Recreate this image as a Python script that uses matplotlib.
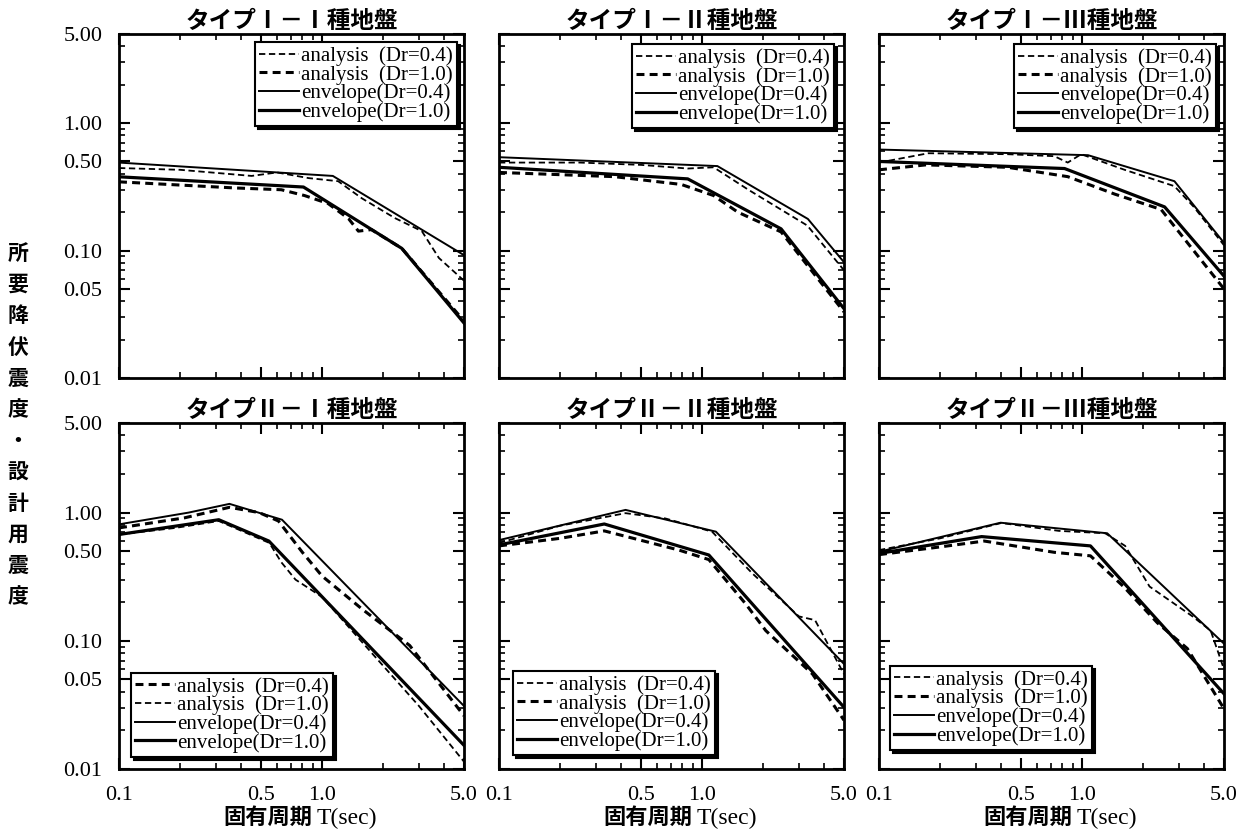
import matplotlib
matplotlib.use("Agg")
import matplotlib.pyplot as plt
from matplotlib.ticker import FixedLocator, LogLocator, NullFormatter

SERIF = "Liberation Serif"
CJK = "Noto Sans CJK JP"

# ---------------- data ----------------
# Type I - ground class I
t11_env04 = [0.1, 1.13, 5.0]
v11_env04 = [0.49, 0.385, 0.092]
t11_env10 = [0.1, 0.81, 2.47, 5.0]
v11_env10 = [0.379, 0.315, 0.104, 0.027]
t11_ana04 = [0.1, 0.2, 0.45, 0.6, 0.86, 1.2, 1.57, 2.28, 3.1, 3.76, 5.0]
v11_ana04 = [0.444, 0.43, 0.385, 0.41, 0.37, 0.35, 0.257, 0.18, 0.142, 0.0875, 0.058]
t11_ana10 = [0.1, 0.37, 0.63, 0.82, 1.07, 1.35, 1.51, 1.75, 2.47, 5.0]
v11_ana10 = [0.346, 0.31, 0.30, 0.27, 0.234, 0.178, 0.142, 0.146, 0.104, 0.028]

# Type I - ground class II
t12_env04 = [0.1, 1.19, 3.32, 5.0]
v12_env04 = [0.54, 0.46, 0.177, 0.081]
t12_env10 = [0.1, 0.85, 2.45, 5.0]
v12_env10 = [0.45, 0.365, 0.148, 0.035]
t12_ana04 = [0.1, 0.25, 0.5, 0.85, 1.14, 1.69, 3.3, 5.0]
v12_ana04 = [0.49, 0.49, 0.47, 0.44, 0.45, 0.30, 0.157, 0.07]
t12_ana10 = [0.1, 0.37, 0.79, 1.14, 1.5, 2.45, 5.0]
v12_ana10 = [0.41, 0.38, 0.33, 0.27, 0.20, 0.14, 0.033]

# Type I - ground class III
t13_env04 = [0.1, 1.07, 2.85, 5.0]
v13_env04 = [0.62, 0.56, 0.35, 0.115]
t13_env10 = [0.1, 0.82, 2.55, 5.0]
v13_env10 = [0.50, 0.44, 0.22, 0.063]
t13_ana04 = [0.1, 0.175, 0.43, 0.73, 0.85, 0.99, 1.62, 2.85, 3.55, 5.0]
v13_ana04 = [0.49, 0.58, 0.57, 0.55, 0.49, 0.57, 0.43, 0.32, 0.22, 0.11]
t13_ana10 = [0.1, 0.17, 0.43, 0.85, 1.45, 2.45, 5.0]
v13_ana10 = [0.43, 0.47, 0.45, 0.38, 0.277, 0.21, 0.05]

# Type II - ground class I
t21_env04 = [0.1, 0.22, 0.35, 0.635, 5.0]
v21_env04 = [0.81, 1.0, 1.17, 0.88, 0.031]
t21_env10 = [0.1, 0.31, 0.547, 5.0]
v21_env10 = [0.675, 0.88, 0.60, 0.0153]
t21_ana04 = [0.1, 0.21, 0.35, 0.49, 0.61, 0.8, 1.0, 1.58, 2.7, 5.0]
v21_ana04 = [0.76, 0.91, 1.1, 1.0, 0.86, 0.49, 0.32, 0.176, 0.092, 0.026]
t21_ana10 = [0.1, 0.19, 0.31, 0.55, 0.63, 0.74, 1.0, 1.58, 3.0, 5.0]
v21_ana10 = [0.675, 0.76, 0.86, 0.58, 0.41, 0.30, 0.22, 0.097, 0.031, 0.0114]

# Type II - ground class II
t22_env04 = [0.1, 0.42, 1.17, 5.0]
v22_env04 = [0.61, 1.05, 0.71, 0.066]
t22_env10 = [0.1, 0.33, 1.08, 5.0]
v22_env10 = [0.56, 0.815, 0.467, 0.0303]
t22_ana04 = [0.1, 0.2, 0.42, 0.66, 1.12, 1.77, 3.0, 3.6, 5.0]
v22_ana04 = [0.58, 0.79, 0.99, 0.90, 0.71, 0.335, 0.155, 0.145, 0.055]
t22_ana10 = [0.1, 0.2, 0.33, 0.77, 1.08, 1.64, 2.06, 3.5, 5.0]
v22_ana10 = [0.55, 0.63, 0.72, 0.51, 0.43, 0.194, 0.12, 0.055, 0.024]

# Type II - ground class III
t23_env04 = [0.1, 0.397, 1.33, 5.0]
v23_env04 = [0.495, 0.834, 0.69, 0.095]
t23_env10 = [0.1, 0.32, 1.1, 5.0]
v23_env10 = [0.48, 0.65, 0.55, 0.0386]
t23_ana04 = [0.1, 0.2, 0.4, 0.77, 1.3, 1.63, 2.15, 3.5, 4.3, 5.0]
v23_ana04 = [0.51, 0.63, 0.83, 0.72, 0.69, 0.55, 0.265, 0.155, 0.12, 0.06]
t23_ana10 = [0.1, 0.2, 0.33, 0.73, 1.1, 1.6, 2.35, 3.3, 5.0]
v23_ana10 = [0.47, 0.54, 0.60, 0.49, 0.46, 0.265, 0.138, 0.087, 0.0295]

panel_titles = ["タイプⅠ－Ⅰ種地盤", "タイプⅠ－Ⅱ種地盤", "タイプⅠ－Ⅲ種地盤",
                "タイプⅡ－Ⅰ種地盤", "タイプⅡ－Ⅱ種地盤", "タイプⅡ－Ⅲ種地盤"]
legend_labels = ["analysis  (Dr=0.4)", "analysis  (Dr=1.0)",
                 "envelope(Dr=0.4)", "envelope(Dr=1.0)"]
x_ticks = [0.1, 0.5, 1.0, 5.0]
x_tick_labels = ["0.1", "0.5", "1.0", "5.0"]
y_ticks = [0.01, 0.05, 0.10, 0.50, 1.00, 5.00]
y_tick_labels = ["0.01", "0.05", "0.10", "0.50", "1.00", "5.00"]
x_label_jp = "固有周期"
x_label_en = "T(sec)"
y_label = "所要降伏震度・設計用震度"

panels = [
    (t11_ana04, v11_ana04, t11_ana10, v11_ana10, t11_env04, v11_env04, t11_env10, v11_env10),
    (t12_ana04, v12_ana04, t12_ana10, v12_ana10, t12_env04, v12_env04, t12_env10, v12_env10),
    (t13_ana04, v13_ana04, t13_ana10, v13_ana10, t13_env04, v13_env04, t13_env10, v13_env10),
    (t21_ana04, v21_ana04, t21_ana10, v21_ana10, t21_env04, v21_env04, t21_env10, v21_env10),
    (t22_ana04, v22_ana04, t22_ana10, v22_ana10, t22_env04, v22_env04, t22_env10, v22_env10),
    (t23_ana04, v23_ana04, t23_ana10, v23_ana10, t23_env04, v23_env04, t23_env10, v23_env10),
]

# ---------------- styles / layout ----------------
thin_dash = dict(color="black", lw=1.3, ls=(0, (3.5, 2.0)))
thick_dash = dict(color="black", lw=2.2, ls=(0, (2.6, 1.7)))
thin_solid = dict(color="black", lw=1.4, ls="-")
thick_solid = dict(color="black", lw=2.3, ls="-")

W, H = 1254, 832
col_left = [119, 499, 879]
col_w = 345
row_top = [34, 423]
row_h = [344, 346]

legend_anchor = [
    ("upper right", (0.98, 0.977)),
    ("upper right", (0.971, 0.971)),
    ("upper right", (0.977, 0.971)),
    ("lower left", (0.035, 0.035)),
    ("lower left", (0.04, 0.04)),
    ("lower left", (0.032, 0.055)),
]

fig = plt.figure(figsize=(W / 100, H / 100), dpi=100)
fig.patch.set_facecolor("white")

for i, data in enumerate(panels):
    r, c = divmod(i, 3)
    left = col_left[c] / W
    bottom = 1 - (row_top[r] + row_h[r]) / H
    ax = fig.add_axes([left, bottom, col_w / W, row_h[r] / H])
    ta4, va4, ta1, va1, te4, ve4, te1, ve1 = data

    # bottom-left panel uses thick dashes for Dr=0.4 and thin for Dr=1.0
    s04, s10 = (thick_dash, thin_dash) if i == 3 else (thin_dash, thick_dash)
    h1, = ax.plot(ta4, va4, **s04)
    h2, = ax.plot(ta1, va1, **s10)
    h3, = ax.plot(te4, ve4, **thin_solid)
    h4, = ax.plot(te1, ve1, **thick_solid)

    ax.set_xscale("log")
    ax.set_yscale("log")
    ax.set_xlim(0.1, 5.0)
    ax.set_ylim(0.01, 5.0)

    ax.xaxis.set_major_locator(FixedLocator(x_ticks))
    ax.yaxis.set_major_locator(FixedLocator(y_ticks))
    ax.xaxis.set_minor_locator(LogLocator(base=10, subs=range(2, 10)))
    ax.yaxis.set_minor_locator(LogLocator(base=10, subs=range(2, 10)))
    ax.xaxis.set_minor_formatter(NullFormatter())
    ax.yaxis.set_minor_formatter(NullFormatter())
    if r == 1:
        ax.set_xticklabels(x_tick_labels)
    else:
        ax.set_xticklabels([])
    if c == 0:
        ax.set_yticklabels(y_tick_labels)
    else:
        ax.set_yticklabels([])

    ax.tick_params(which="both", direction="in", top=True, right=True,
                   colors="black")
    ax.tick_params(which="major", length=8, width=1.5, pad=12)
    ax.tick_params(which="minor", length=4.5, width=1.2)
    for lab in ax.get_xticklabels() + ax.get_yticklabels():
        lab.set_fontfamily(SERIF)
        lab.set_fontsize(16)
    for sp in ax.spines.values():
        sp.set_linewidth(2.0)
        sp.set_color("black")

    ax.set_title(panel_titles[i], fontfamily=CJK, fontweight="bold",
                 fontsize=17, pad=4)

    loc, anchor = legend_anchor[i]
    leg = ax.legend([h1, h2, h3, h4], legend_labels, loc=loc,
                    bbox_to_anchor=anchor, borderaxespad=0,
                    prop={"family": SERIF, "size": 15},
                    frameon=True, fancybox=False, framealpha=1,
                    edgecolor="black", handlelength=1.9, handletextpad=0.12,
                    labelspacing=-0.05, borderpad=0.2,
                    shadow={"color": "black", "alpha": 1})
    leg.get_frame().set_linewidth(1.5)

    if r == 1:
        ax.text(0.56, -0.159, x_label_jp, transform=ax.transAxes,
                ha="right", va="baseline", fontfamily=CJK,
                fontweight="bold", fontsize=16)
        ax.text(0.574, -0.159, x_label_en, transform=ax.transAxes,
                ha="left", va="baseline", fontfamily=SERIF, fontsize=17)

fig.text(18 / W, 1 - 425 / H, "\n".join(y_label), ha="center", va="center",
         fontfamily=CJK, fontweight="bold", fontsize=15, linespacing=1.6)

fig.savefig("out.png", dpi=100, facecolor="white")
